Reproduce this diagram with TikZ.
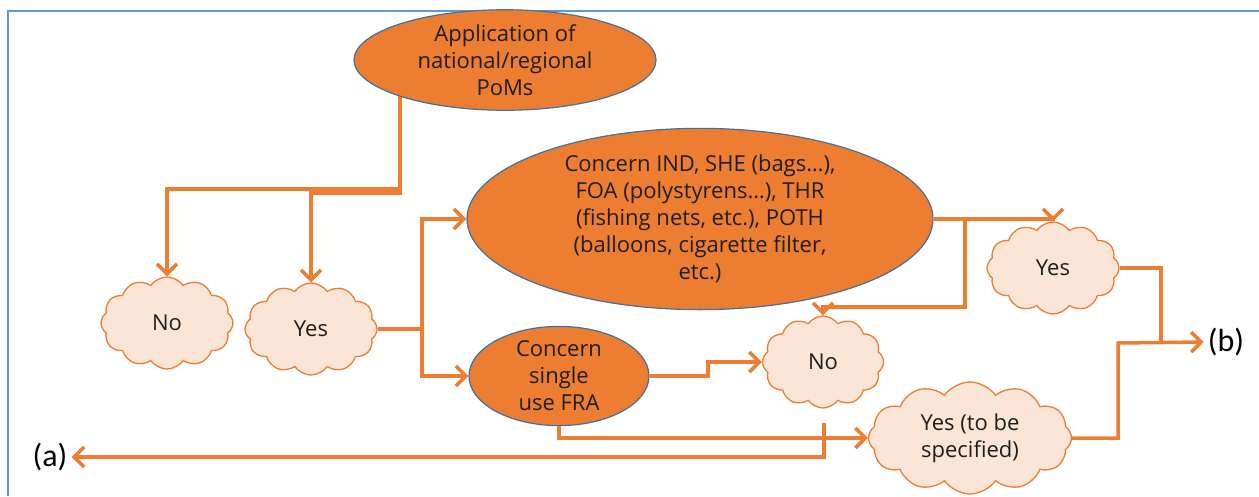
\documentclass[tikz,border=0pt]{standalone}
\usepackage{fontspec}
\setmainfont{Open Sans}
\newfontfamily\calfont{Carlito}
\usetikzlibrary{shapes.geometric,shapes.symbols,arrows.meta,backgrounds}
\definecolor{orng}{HTML}{ED7D31}
\definecolor{eblue}{HTML}{41719C}
\definecolor{framecol}{HTML}{5B9BD5}
\definecolor{cloudfill}{HTML}{FBE5D6}
\definecolor{txt}{HTML}{1E1E1E}
\begin{document}
\begin{tikzpicture}[x=1pt,y=-1pt,
  oval/.style={ellipse, draw=eblue, line width=1.2pt, fill=orng, inner sep=0pt, text=txt, align=center, font=\fontsize{22}{27}\selectfont},
  puff/.style={cloud, cloud puffs=12, cloud puff arc=110, cloud ignores aspect, draw=orng, line width=1.3pt, fill=cloudfill, inner sep=0pt, text=txt, align=center, font=\fontsize{22}{27}\selectfont},
  conn/.style={draw=orng, line width=3.5pt},
  arr/.style={conn, -{Straight Barb[length=10pt,width=20pt]}},
  lbl/.style={font=\calfont\fontsize{32}{36}\selectfont, text=black, inner xsep=4pt},
]
\useasboundingbox (0,0) rectangle (1259,496);
\draw[framecol, line width=2pt] (8,496) -- (8,11) -- (1259,11);

\node[oval, minimum width=302pt, minimum height=90pt] (app) at (505,60) {Application of\\national/regional\\PoMs};
\node[oval, minimum width=466pt, minimum height=160pt] (big) at (700,219) {Concern IND, SHE (bags\dots),\\FOA (polystyrens\dots), THR\\(fishing nets, etc.), POTH\\(balloons, cigarette filter,\\etc.)};
\node[oval, minimum width=180pt, minimum height=96pt] (fra) at (559,376) {Concern\\single\\use FRA};

\node[puff, minimum width=132pt, minimum height=92pt] (no1) at (167,323) {No};
\node[puff, minimum width=132pt, minimum height=92pt] (yes1) at (311,329) {Yes};
\node[puff, minimum width=121pt, minimum height=92pt] (no2) at (823,362) {No};
\node[puff, minimum width=132pt, minimum height=92pt] (yes2) at (1053,268) {Yes};
\node[puff, minimum width=203pt, minimum height=112pt] (yes3) at (970,438) {Yes (to be\\specified)};

\node[lbl] (a) at (50,457) {(a)};
\node[lbl] (b) at (1226,342) {(b)};

\coordinate (split) at (422,329);
\coordinate (astart) at (824,423);
\coordinate (join) at (1161,343);

\begin{pgfonlayer}{background}
\draw[arr] (app.center -| 400,0) -- (400,189) -| (no1.north);
\draw[arr] (app.center -| 400,0) -- (400,193) -| (yes1.north);
\draw[conn] (yes1.east) -- (split);
\draw[arr] (split) |- (big.west);
\draw[arr] (split) |- (fra.west);
\draw[arr] (big.east) -- (big.east -| yes2.north) -- (yes2.north);
\draw[arr] (big.east -| 965,0) -- (965,307) -| (no2.north);
\draw[arr] (fra.east) -- (708,376) |- (no2.west);
\draw[arr] (fra.south) |- (yes3.west);
\draw[arr] (astart) |- (a.east);
\draw[conn] (yes2.east) -| (join);
\draw[arr] (yes3.east) -| (1118,343) -- (b.west);
\end{pgfonlayer}
\end{tikzpicture}
\end{document}
